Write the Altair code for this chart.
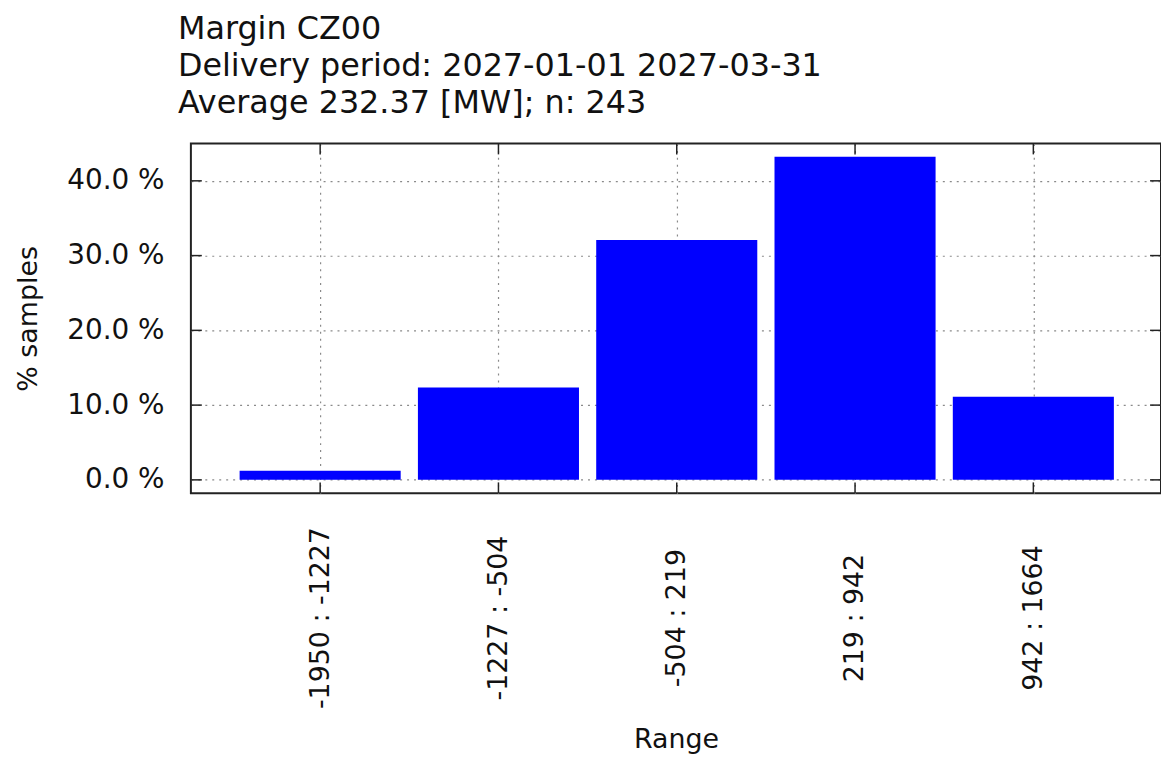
import json
import altair as alt
import pandas as pd

# ---- data ----
ranges = ["-1950 : -1227", "-1227 : -504", "-504 : 219", "219 : 942", "942 : 1664"]
percent = [1.23, 12.35, 32.10, 43.21, 11.11]
y_ticks = [0, 10, 20, 30, 40]
title_lines = [
    "Margin CZ00",
    "Delivery period: 2027-01-01 2027-03-31",
    "Average 232.37 [MW]; n: 243",
]

# ---- layout / style ----
W, H = 976, 352
XDOM = [-0.725, 4.716]
YDOM = [-1.8, 45.0]
FONT = "DejaVu Sans"
TXT = "#111111"
FS = 27
TFS = 32
BAR_HALF = 0.4517
TICK = 11

df = pd.DataFrame({"idx": list(range(len(ranges))), "range": ranges, "pct": percent})
tick_df = pd.DataFrame({"v": y_ticks})

xscale = alt.Scale(domain=XDOM, nice=False, zero=False)
yscale = alt.Scale(domain=YDOM, nice=False, zero=False)

xaxis = alt.Axis(
    values=list(range(len(ranges))),
    labelExpr=json.dumps(ranges) + "[datum.value]",
    labelAngle=270, labelAlign="center", labelBaseline="middle",
    labelPadding=125, labelFlush=False, labelOverlap=False, labelLimit=400,
    ticks=False, tickSize=0, domain=False,
    grid=True, gridDash=[2, 5], gridColor="#8a8a8a", gridWidth=1.2,
    labelFont=FONT, labelFontSize=FS, labelColor=TXT,
    title="Range", titleFont=FONT, titleFontSize=FS, titleFontWeight="normal",
    titleColor=TXT, titlePadding=35,
)
yaxis = alt.Axis(
    values=y_ticks,
    labelExpr="format(datum.value, '.1f') + ' %'",
    labelPadding=27, labelFlush=False, labelOverlap=False, labelLimit=400,
    ticks=False, tickSize=0, domain=False,
    grid=True, gridDash=[2, 5], gridColor="#8a8a8a", gridWidth=1.2,
    labelFont=FONT, labelFontSize=FS + 1, labelColor=TXT,
    title="% samples", titleFont=FONT, titleFontSize=FS, titleFontWeight="normal",
    titleColor=TXT, titlePadding=24,
)

bars = (
    alt.Chart(df)
    .transform_calculate(x0=f"datum.idx - {BAR_HALF}", x1=f"datum.idx + {BAR_HALF}")
    .mark_bar(color="#0000ff")
    .encode(
        x=alt.X("x0:Q", scale=xscale, axis=xaxis),
        x2="x1:Q",
        y=alt.Y("pct:Q", scale=yscale, axis=yaxis),
        y2=alt.datum(0),
    )
)

tick_style = dict(color="#222222", strokeWidth=1.5)
ytick_left = alt.Chart(tick_df).mark_rule(**tick_style).encode(
    y=alt.Y("v:Q", scale=yscale, axis=yaxis), x=alt.value(0), x2=alt.value(TICK))
ytick_right = alt.Chart(tick_df).mark_rule(**tick_style).encode(
    y=alt.Y("v:Q", scale=yscale, axis=yaxis), x=alt.value(W - TICK), x2=alt.value(W))
xtick_bottom = alt.Chart(df).mark_rule(**tick_style).encode(
    x=alt.X("idx:Q", scale=xscale, axis=xaxis), y=alt.value(H - TICK), y2=alt.value(H))
xtick_top = alt.Chart(df).mark_rule(**tick_style).encode(
    x=alt.X("idx:Q", scale=xscale, axis=xaxis), y=alt.value(0), y2=alt.value(TICK))

chart = (
    alt.layer(bars, ytick_left, ytick_right, xtick_bottom, xtick_top)
    .properties(
        width=W, height=H,
        autosize=alt.AutoSizeParams(type="none"),
        padding={"left": 184, "top": 134, "right": 0, "bottom": 263},
        title=alt.TitleParams(
            text=title_lines, anchor="start", frame="group", dx=-13,
            font=FONT, fontSize=TFS, fontWeight="normal", color=TXT,
            lineHeight=37, offset=23,
        ),
    )
    .configure(background="white")
    .configure_view(stroke="#222222", strokeWidth=2)
)

chart.save("out.html", embed_options={"renderer": "svg", "actions": False})
